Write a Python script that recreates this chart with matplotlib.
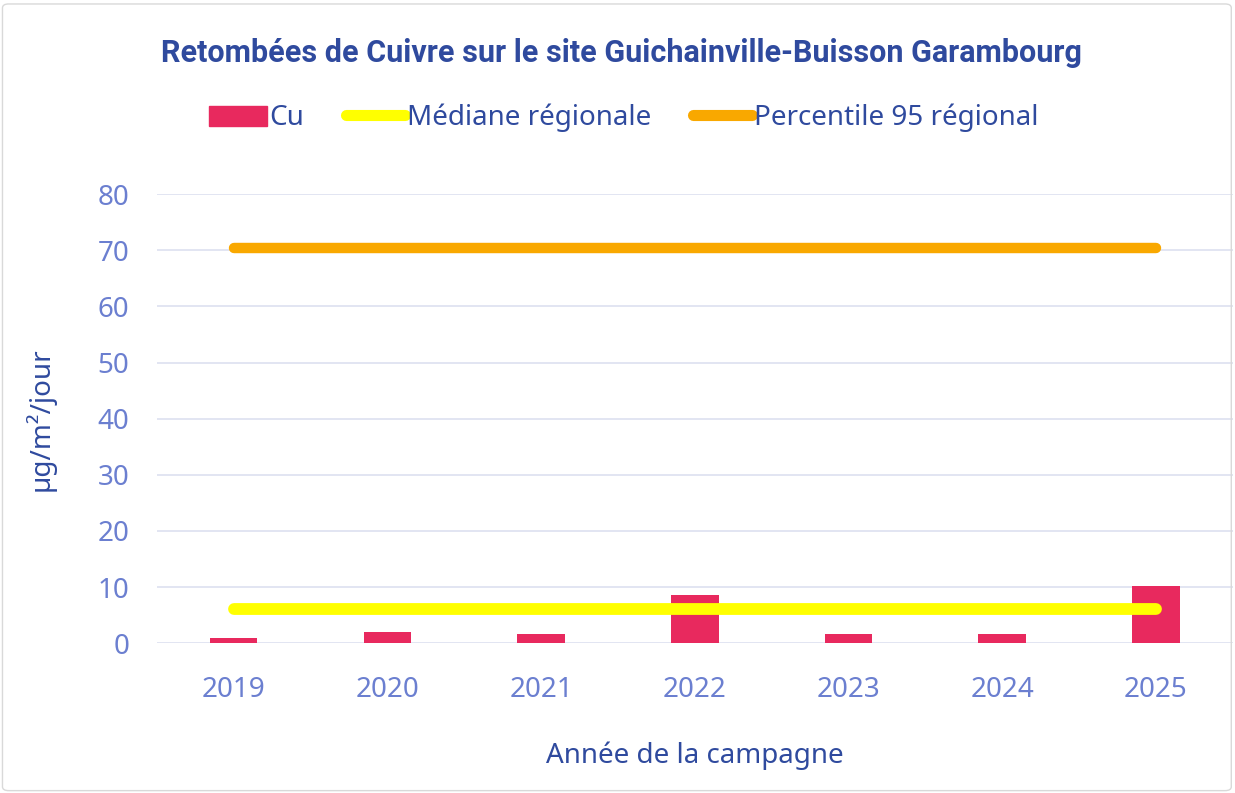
import matplotlib.pyplot as plt
from matplotlib.patches import Patch, FancyBboxPatch
from matplotlib.lines import Line2D
import numpy as np

# data
years = ["2019", "2020", "2021", "2022", "2023", "2024", "2025"]
cu = [0.9, 2.0, 1.6, 8.5, 1.6, 1.6, 10.2]
mediane = [6.1] * 7
p95 = [70.5] * 7

plt.rcParams['font.family'] = ['Noto Sans', 'DejaVu Sans']

title_col = "#2F4A9E"
tick_col = "#6B7FD0"
bar_col = "#E8295E"
med_col = "#FFFF00"
p95_col = "#F9A800"

fig = plt.figure(figsize=(12.35, 7.93), dpi=100)
ax = fig.add_axes([0.127, 0.189, 0.871, 0.566])

x = np.arange(len(years))
ax.bar(x, cu, width=0.31, color=bar_col, zorder=2)
ax.plot(x, mediane, color=med_col, lw=8.5, solid_capstyle='round', zorder=3)
ax.plot(x, p95, color=p95_col, lw=7.5, solid_capstyle='round', zorder=3)

ax.set_xlim(-0.5, 6.5)
ax.set_ylim(0, 80)
ax.set_yticks(range(0, 81, 10))
ax.set_xticks(x)
ax.set_xticklabels(years)
ax.grid(axis='y', color="#DDE0F0", lw=1.2, zorder=0)
ax.tick_params(length=0, labelsize=20, colors=tick_col)
ax.tick_params(axis='y', pad=20)
ax.tick_params(axis='x', pad=24)
for s in ax.spines.values():
    s.set_visible(False)

ax.set_xlabel("Année de la campagne", fontsize=20, color=title_col, labelpad=27)
ax.set_ylabel("µg/m²/jour", fontsize=20, color=title_col, labelpad=30)

fig.text(0.503, 0.933, "Retombées de Cuivre sur le site Guichainville-Buisson Garambourg",
         ha='center', va='center', fontsize=22, fontweight='bold', color=title_col,
         family=['Roboto', 'DejaVu Sans'])

handles = [Patch(color=bar_col),
           Line2D([0], [0], color=med_col, lw=8, solid_capstyle='round'),
           Line2D([0], [0], color=p95_col, lw=8, solid_capstyle='round')]
labels = ["Cu", "Médiane régionale", "Percentile 95 régional"]
leg = fig.legend(handles, labels, loc='center', bbox_to_anchor=(0.505, 0.851), ncol=3,
                 frameon=False, fontsize=20, handlelength=2.1, handleheight=0.75,
                 handletextpad=0.1, columnspacing=1.5)
for t in leg.get_texts():
    t.set_color(title_col)

fig.patches.append(FancyBboxPatch((0.002, 0.003), 0.995, 0.992, boxstyle="round,pad=0,rounding_size=0.005",
                                  transform=fig.transFigure, fill=False, ec="#D9D9D9", lw=1))

fig.savefig("out.png", dpi=100)
